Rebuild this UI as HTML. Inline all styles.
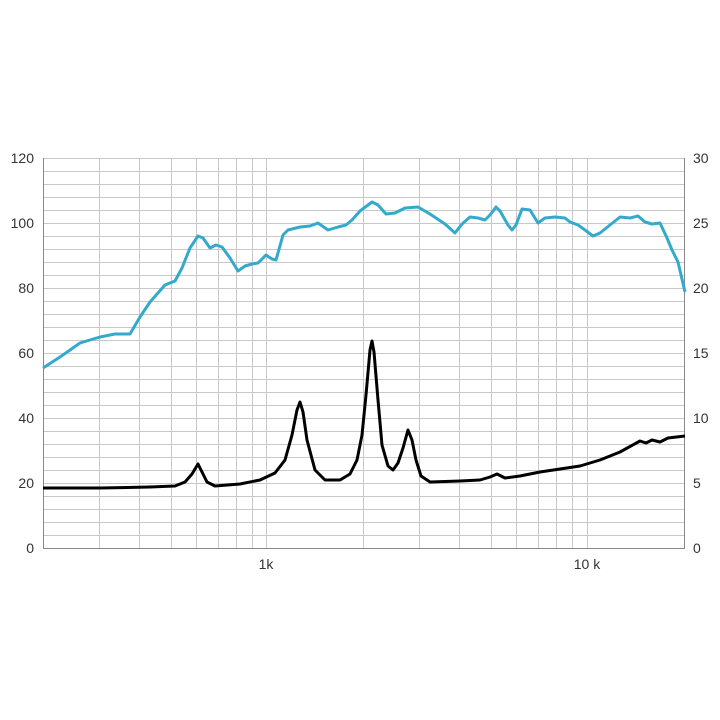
<!DOCTYPE html>
<html><head><style>body{margin:0;background:#fff}svg{display:block}</style></head><body>
<svg width="720" height="720" xmlns="http://www.w3.org/2000/svg" font-family="Liberation Sans, sans-serif" font-size="14" fill="#333">
<g stroke="#c8c8c8" stroke-width="1">
<line x1="43" x2="685" y1="171.5" y2="171.5"/><line x1="43" x2="685" y1="184.5" y2="184.5"/><line x1="43" x2="685" y1="197.5" y2="197.5"/><line x1="43" x2="685" y1="210.5" y2="210.5"/><line x1="43" x2="685" y1="223.5" y2="223.5"/><line x1="43" x2="685" y1="236.5" y2="236.5"/><line x1="43" x2="685" y1="249.5" y2="249.5"/><line x1="43" x2="685" y1="262.5" y2="262.5"/><line x1="43" x2="685" y1="275.5" y2="275.5"/><line x1="43" x2="685" y1="288.5" y2="288.5"/><line x1="43" x2="685" y1="301.5" y2="301.5"/><line x1="43" x2="685" y1="314.5" y2="314.5"/><line x1="43" x2="685" y1="327.5" y2="327.5"/><line x1="43" x2="685" y1="340.5" y2="340.5"/><line x1="43" x2="685" y1="353.5" y2="353.5"/><line x1="43" x2="685" y1="366.5" y2="366.5"/><line x1="43" x2="685" y1="379.5" y2="379.5"/><line x1="43" x2="685" y1="392.5" y2="392.5"/><line x1="43" x2="685" y1="405.5" y2="405.5"/><line x1="43" x2="685" y1="418.5" y2="418.5"/><line x1="43" x2="685" y1="431.5" y2="431.5"/><line x1="43" x2="685" y1="444.5" y2="444.5"/><line x1="43" x2="685" y1="457.5" y2="457.5"/><line x1="43" x2="685" y1="470.5" y2="470.5"/><line x1="43" x2="685" y1="483.5" y2="483.5"/><line x1="43" x2="685" y1="496.5" y2="496.5"/><line x1="43" x2="685" y1="509.5" y2="509.5"/><line x1="43" x2="685" y1="522.5" y2="522.5"/><line x1="43" x2="685" y1="535.5" y2="535.5"/><line x1="43" x2="685" y1="158.5" y2="158.5"/>
<line x1="99.5" x2="99.5" y1="158" y2="548"/><line x1="139.5" x2="139.5" y1="158" y2="548"/><line x1="171.5" x2="171.5" y1="158" y2="548"/><line x1="196.5" x2="196.5" y1="158" y2="548"/><line x1="218.5" x2="218.5" y1="158" y2="548"/><line x1="236.5" x2="236.5" y1="158" y2="548"/><line x1="252.5" x2="252.5" y1="158" y2="548"/><line x1="266.5" x2="266.5" y1="158" y2="548"/>
<line x1="363.5" x2="363.5" y1="158" y2="548"/><line x1="419.5" x2="419.5" y1="158" y2="548"/><line x1="459.5" x2="459.5" y1="158" y2="548"/><line x1="491.5" x2="491.5" y1="158" y2="548"/><line x1="516.5" x2="516.5" y1="158" y2="548"/><line x1="538.5" x2="538.5" y1="158" y2="548"/><line x1="556.5" x2="556.5" y1="158" y2="548"/><line x1="572.5" x2="572.5" y1="158" y2="548"/><line x1="587.5" x2="587.5" y1="158" y2="548"/>
</g>
<g stroke="#888" stroke-width="1">
<line x1="43.5" x2="43.5" y1="158" y2="548"/><line x1="684.5" x2="684.5" y1="158" y2="548"/><line x1="43" x2="685" y1="548.5" y2="548.5"/>
</g>
<g text-anchor="end">
<text x="34" y="163">120</text><text x="34" y="228">100</text><text x="34" y="293">80</text><text x="34" y="358">60</text><text x="34" y="423">40</text><text x="34" y="488">20</text><text x="34" y="553">0</text>
</g>
<g>
<text x="693" y="163">30</text><text x="693" y="228">25</text><text x="693" y="293">20</text><text x="693" y="358">15</text><text x="693" y="423">10</text><text x="693" y="488">5</text><text x="693" y="553">0</text>
</g>
<text x="266" y="569" text-anchor="middle">1k</text>
<text x="587" y="569" text-anchor="middle">10 k</text>
<polyline fill="none" stroke="#33aacc" stroke-width="3" stroke-linejoin="round" points="43,368 60,357 80,343 100,337 115,334 130,334 140,317 150,302 165,285 175,281 182,268 190,248 198,236 203,238 210,248 216,245 222,247 230,258 238,271 245,266 252,264 258,263 266,255 272,259 276,260 283,235 288,230 300,227 310,226 318,223 328,230 338,227 346,225 352,220 360,211 372,202 378,205 386,214 395,213 405,208 418,207 430,214 445,224 455,233 462,224 470,217 478,218 485,220 490,215 496,207 500,211 508,225 512,230 516,225 522,209 530,210 538,223 545,218 555,217 565,218 570,222 578,225 585,230 593,236 600,233 610,225 620,217 630,218 638,216 645,222 652,224 660,223 667,238 672,250 678,262 685,292"/>
<polyline fill="none" stroke="#000" stroke-width="3" stroke-linejoin="round" points="43,488 100,488 150,487 175,486 185,482 192,474 198,464 202,472 207,482 215,486 240,484 260,480 275,473 285,460 292,435 297,410 300,402 303,412 307,440 315,470 325,480 340,480 350,474 357,460 362,435 366,395 370,350 372,341 374,352 378,400 382,445 388,466 393,470 398,463 403,448 408,430 412,440 416,460 421,476 430,482 460,481 480,480 490,477 497,474 505,478 520,476 540,472 560,469 580,466 600,460 620,452 640,441 646,443 652,440 660,442 668,438 685,436"/>
</svg>
</body></html>
